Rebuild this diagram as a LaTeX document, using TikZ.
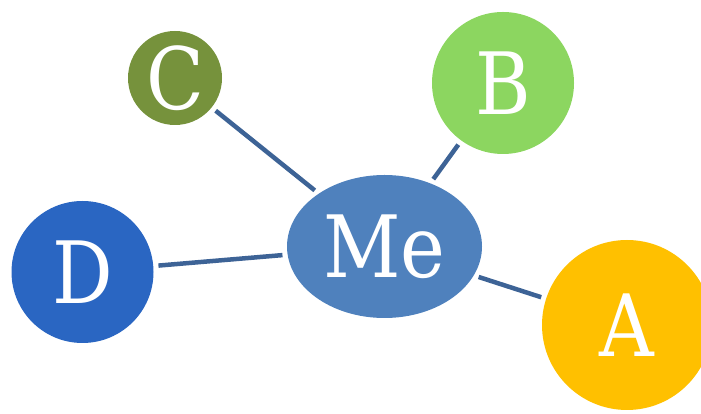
\documentclass[tikz,border=0pt]{standalone}
\usepackage{fontspec}
\setmainfont[FakeStretch=0.88]{DejaVu Serif}
\usetikzlibrary{shapes.geometric}
\definecolor{meblue}{HTML}{4F81BD}
\definecolor{colC}{HTML}{76923C}
\definecolor{colB}{HTML}{8CD660}
\definecolor{colD}{HTML}{2A66C2}
\definecolor{colA}{HTML}{FFC000}
\definecolor{linkcol}{HTML}{3D6396}
\tikzset{
  bubble/.style={circle, inner sep=0pt, text=white, font=\fontsize{86}{86}\selectfont},
  link/.style={draw=linkcol, line width=4.5pt, shorten <=5pt, shorten >=5pt}
}
\begin{document}
\begin{tikzpicture}[x=1pt,y=1pt]
\useasboundingbox (0,0) rectangle (701,414);
\clip (0,0) rectangle (701,414);
\node[bubble, ellipse, fill=meblue, minimum width=195pt, minimum height=143pt] (me) at (384.5,167.5) {Me};
\node[bubble, fill=colC, minimum size=94pt] (c) at (175,336) {C};
\node[bubble, fill=colB, minimum size=142pt] (b) at (503,331) {B};
\node[bubble, fill=colD, minimum size=142pt] (d) at (82.5,142) {D};
\node[bubble, fill=colA, minimum size=170pt] (a) at (627,89) {A};
\draw[link] (c) -- (me);
\draw[link] (b) -- (me);
\draw[link] (d) -- (me);
\draw[link] (a) -- (me);
\end{tikzpicture}
\end{document}
